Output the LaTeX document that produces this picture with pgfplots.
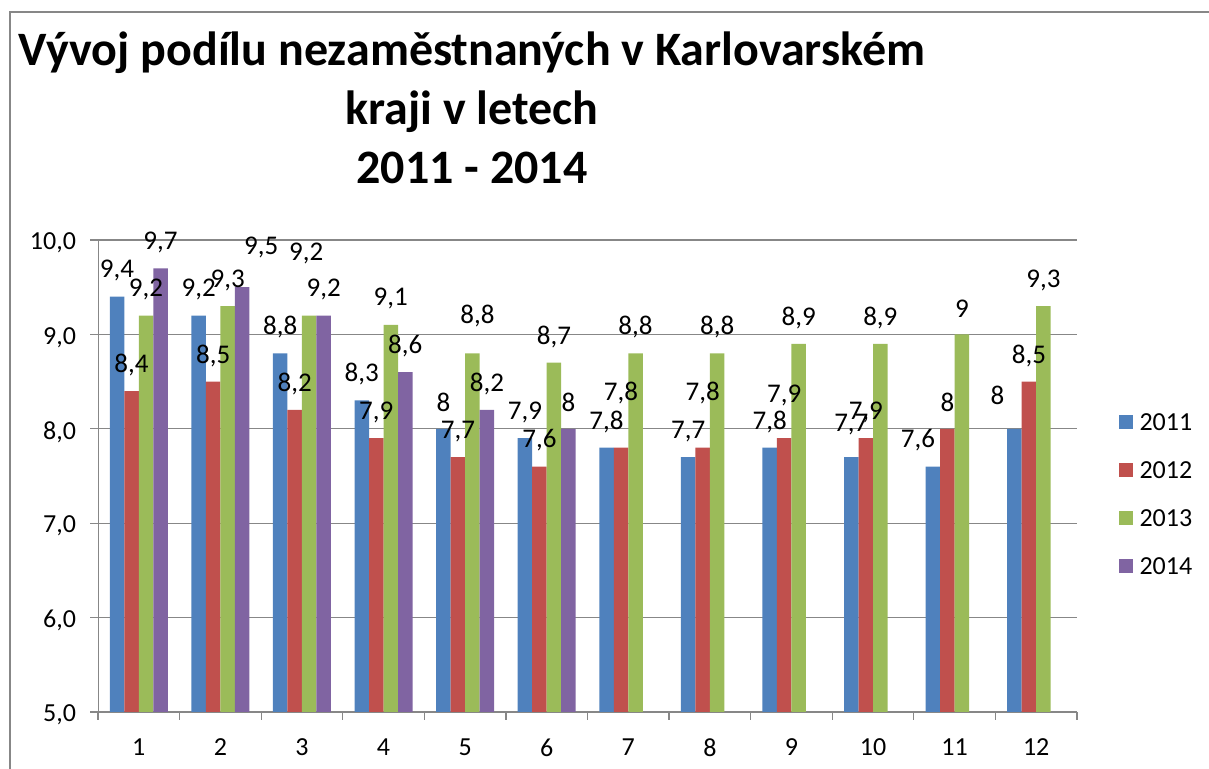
\documentclass[border=0pt]{standalone}
\usepackage{fontspec}
\setmainfont{Carlito}
\usepackage{pgfplots}
\pgfplotsset{compat=1.18}
\definecolor{c2011}{HTML}{4F81BD}
\definecolor{c2012}{HTML}{C0504D}
\definecolor{c2013}{HTML}{9BBB59}
\definecolor{c2014}{HTML}{8064A2}
\definecolor{framegray}{HTML}{878787}
\pgfplotsset{
  sq legend/.style={legend image code/.code={\fill[##1,draw=none] (0pt,-3.5pt) rectangle (7pt,3.5pt); \path (10.5pt,0pt);}},
}
\begin{document}
\begin{tikzpicture}
\useasboundingbox (0pt,0pt) rectangle (604.5pt,384.5pt);
\draw[framegray, line width=0.7pt] (5pt,0pt) -- (5pt,378.5pt) -- (604.5pt,378.5pt);
\node[anchor=north, align=center, inner sep=0pt, font=\fontsize{24}{29.5}\selectfont\bfseries]
  at (236pt,369pt) {Vývoj podílu nezaměstnaných v Karlovarském\\kraji v letech\\2011 - 2014};
\begin{axis}[
  at={(49pt,28.5pt)}, anchor=south west,
  scale only axis, width=489.5pt, height=236pt,
  ybar=0pt, bar width=7.25pt,
  xmin=0.5, xmax=12.5, ymin=5, ymax=10,
  xtick={0.5,1.5,...,12.5},
  x tick label as interval,
  xticklabels={1,2,3,4,5,6,7,8,9,10,11,12},
  ytick={5,6,7,8,9,10},
  axis x line*=bottom, axis y line*=left,
  axis line style={draw=framegray, -},
  tick style={draw=framegray, line width=0.6pt},
  tick align=outside, major tick length=4pt,
  ymajorgrids, grid style={framegray, line width=0.6pt},
  /pgf/number format/assume math mode=true,
  /pgf/number format/use comma,
  tick label style={font=\fontsize{13}{15}\selectfont},
  yticklabel style={xshift=-3.5pt, yshift=-1.5pt, /pgf/number format/fixed, /pgf/number format/fixed zerofill, /pgf/number format/precision=1},
  xticklabel style={yshift=-6pt},
  nodes near coords,
  every node near coord/.append style={anchor=center, yshift=13pt, font=\fontsize{13.5}{15}\selectfont, text=black},
  legend style={at={(1.042,0.461)}, anchor=west, draw=none, fill=none, inner sep=0pt,
    row sep=16pt, font=\fontsize{13}{15}\selectfont,
    nodes={inner sep=0pt, anchor=west, text height=8pt, text depth=0pt}},
  legend cell align=left,
]
\addplot[fill=c2011, draw=none, sq legend,
  coordinate style/.condition={x==10}{yshift=3.5pt},
  coordinate style/.condition={x==11}{xshift=-7.5pt},
  coordinate style/.condition={x==12}{xshift=-8.5pt, yshift=3.5pt}] coordinates {
  (1,9.4) (2,9.2) (3,8.8) (4,8.3) (5,8) (6,7.9) (7,7.8) (8,7.7) (9,7.8) (10,7.7) (11,7.6) (12,8)};
\addplot[fill=c2012, draw=none, sq legend,
  coordinate style/.condition={x==7}{yshift=14.5pt},
  coordinate style/.condition={x==8}{yshift=14.5pt},
  coordinate style/.condition={x==9}{yshift=8.5pt}] coordinates {
  (1,8.4) (2,8.5) (3,8.2) (4,7.9) (5,7.7) (6,7.6) (7,7.8) (8,7.8) (9,7.9) (10,7.9) (11,8) (12,8.5)};
\addplot[fill=c2013, draw=none, sq legend,
  coordinate style/.condition={x==3}{xshift=-1.5pt, yshift=18pt},
  coordinate style/.condition={x==5}{xshift=2.5pt, yshift=5.5pt}] coordinates {
  (1,9.2) (2,9.3) (3,9.2) (4,9.1) (5,8.8) (6,8.7) (7,8.8) (8,8.8) (9,8.9) (10,8.9) (11,9) (12,9.3)};
\addplot[fill=c2014, draw=none, sq legend,
  coordinate style/.condition={x==2}{xshift=9.5pt, yshift=7pt}] coordinates {
  (1,9.7) (2,9.5) (3,9.2) (4,8.6) (5,8.2) (6,8)};
\legend{2011,2012,2013,2014}
\end{axis}
\end{tikzpicture}
\end{document}
